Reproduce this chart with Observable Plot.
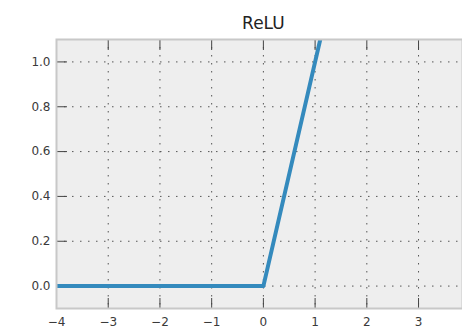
<!DOCTYPE html>
<html>
<head>
<meta charset="utf-8">
<script src="https://cdn.jsdelivr.net/npm/d3@7"></script>
<script src="https://cdn.jsdelivr.net/npm/@observablehq/plot@0.6"></script>
<style>
  body { margin: 0; background: #fff; }
</style>
</head>
<body>
<div id="chart"></div>
<script>
const title = "ReLU";
const xs = [-4, -3, -2, -1, 0, 1, 2, 3, 4];
const ys = [0, 0, 0, 0, 0, 1, 2, 3, 4];
const xTicks = [-4, -3, -2, -1, 0, 1, 2, 3];
const yTicks = [0, 0.2, 0.4, 0.6, 0.8, 1.0];

const data = xs.map((x, i) => ({x, y: ys[i]}));
const font = "DejaVu Sans";
const gridDash = "1.5,6.5";

const chart = Plot.plot({
  width: 462,
  height: 332,
  marginLeft: 56,
  marginRight: 0,
  marginTop: 39,
  marginBottom: 24,
  style: {fontFamily: font, fontSize: "12px", color: "#3a3a3a", background: "#fff"},
  x: {domain: [-4, 3.85]},
  y: {domain: [-0.1, 1.1]},
  marks: [
    Plot.frame({fill: "#eeeeee", stroke: null}),
    Plot.ruleX(xTicks, {stroke: "#555", strokeWidth: 1, strokeDasharray: gridDash}),
    Plot.ruleY(yTicks, {stroke: "#555", strokeWidth: 1, strokeDasharray: gridDash}),
    Plot.axisX(xTicks, {tickSize: 0, tickPadding: 9, fontSize: 12, tickFormat: d3.format("d"), label: null}),
    Plot.axisX(xTicks, {tickSize: -10, tickFormat: () => "", label: null, stroke: "#444"}),
    Plot.axisX(xTicks, {anchor: "top", tickSize: -10, tickFormat: () => "", label: null, stroke: "#444"}),
    Plot.axisY(yTicks, {tickSize: 0, tickPadding: 6, fontSize: 12, tickFormat: d3.format(".1f"), label: null}),
    Plot.axisY(yTicks, {tickSize: -11, tickFormat: () => "", label: null, stroke: "#444"}),
    Plot.line(data, {x: "x", y: "y", stroke: "#348ABD", strokeWidth: 4, clip: true}),
    Plot.frame({stroke: "#c8c8c8", strokeWidth: 2}),
    Plot.text([title], {x: 0, frameAnchor: "top", dy: -23, fontSize: 17, fill: "#222", text: d => d})
  ]
});
document.getElementById("chart").appendChild(chart);
</script>
</body>
</html>
